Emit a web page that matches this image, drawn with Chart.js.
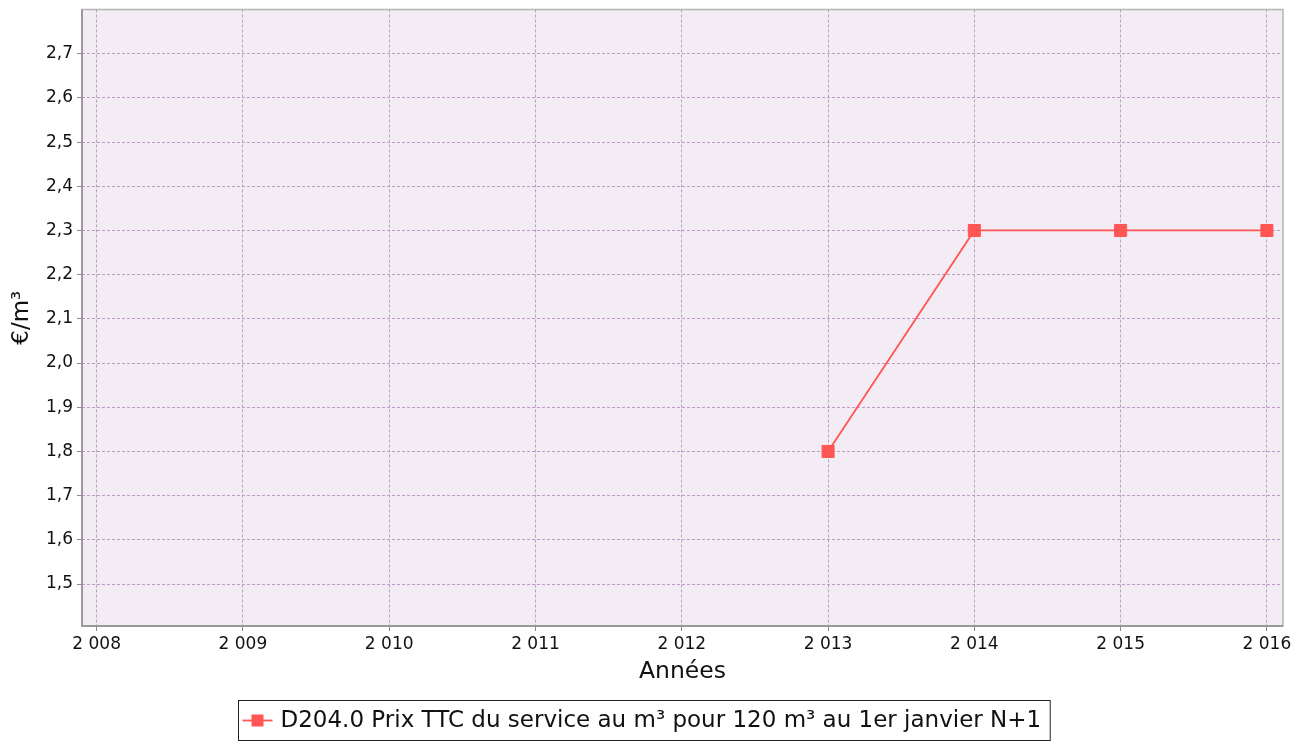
<!DOCTYPE html>
<html>
<head>
<meta charset="utf-8">
<script src="https://cdn.jsdelivr.net/npm/chart.js@4.4.0/dist/chart.umd.min.js"></script>
<style>
  html, body { margin: 0; padding: 0; background: #fff; }
  #wrap { width: 1309px; height: 741px; }
</style>
</head>
<body>
<div id="wrap"><canvas id="chart" width="1309" height="741"></canvas></div>
<script>
const years = [2013, 2014, 2015, 2016];
const prices = [1.8, 2.3, 2.3, 2.3];
const yearTicks = [2008, 2009, 2010, 2011, 2012, 2013, 2014, 2015, 2016];
const priceTicks = [1.5, 1.6, 1.7, 1.8, 1.9, 2.0, 2.1, 2.2, 2.3, 2.4, 2.5, 2.6, 2.7];
const seriesLabel = 'D204.0 Prix TTC du service au m³ pour 120 m³ au 1er janvier N+1';

const FONT = 'DejaVu Sans';
const RED = '#ff5555';
const GRID = '#bf9cc6';
const INK = '#111';

const plotFrame = {
    id: 'plotFrame',
    beforeDraw(chart) {
        const {ctx, chartArea: a} = chart;
        ctx.save();
        ctx.fillStyle = '#f3ecf4';
        ctx.fillRect(a.left, a.top, a.right - a.left, a.bottom - a.top);
        ctx.restore();
    },
    afterDraw(chart) {
        const {ctx, chartArea: a} = chart;
        ctx.save();
        ctx.strokeStyle = '#b4b4b4';
        ctx.lineWidth = 1.5;
        ctx.strokeRect(a.left, a.top, a.right - a.left, a.bottom - a.top);
        ctx.strokeStyle = '#8c8c8c';
        ctx.beginPath();
        ctx.moveTo(a.left, a.top);
        ctx.lineTo(a.left, a.bottom);
        ctx.lineTo(a.right, a.bottom);
        ctx.stroke();

        // legend box
        ctx.font = '23px "' + FONT + '"';
        const tw = ctx.measureText(seriesLabel).width;
        const boxW = tw + 51;
        const x0 = Math.round(chart.width / 2 - boxW / 2 - 11) + 0.5;
        const y0 = 700.5, boxH = 40;
        ctx.fillStyle = '#fff';
        ctx.fillRect(x0, y0, boxW, boxH);
        ctx.strokeStyle = '#222';
        ctx.lineWidth = 1;
        ctx.strokeRect(x0, y0, boxW, boxH);
        const cy = y0 + boxH / 2;
        ctx.strokeStyle = RED;
        ctx.lineWidth = 1.8;
        ctx.beginPath();
        ctx.moveTo(x0 + 4, cy);
        ctx.lineTo(x0 + 34, cy);
        ctx.stroke();
        ctx.fillStyle = RED;
        ctx.fillRect(x0 + 13, cy - 6, 12, 12);
        ctx.fillStyle = INK;
        ctx.textBaseline = 'middle';
        ctx.fillText(seriesLabel, x0 + 42, cy + 1);
        ctx.restore();
    }
};

new Chart(document.getElementById('chart'), {
    type: 'line',
    data: {
        labels: years,
        datasets: [{
            label: seriesLabel,
            data: years.map((y, i) => ({x: y, y: prices[i]})),
            borderColor: RED,
            backgroundColor: RED,
            borderWidth: 1.8,
            pointStyle: 'rect',
            pointRadius: 8.5,
            pointBorderWidth: 1,
            pointBorderColor: RED,
            pointBackgroundColor: RED,
            tension: 0,
            fill: false
        }]
    },
    options: {
        responsive: false,
        animation: false,
        layout: { padding: { top: 8, right: 26, bottom: 52, left: 0 } },
        plugins: {
            legend: { display: false },
            tooltip: { enabled: false }
        },
        scales: {
            x: {
                type: 'linear',
                min: 2007.9,
                max: 2016.11,
                afterBuildTicks: (s) => { s.ticks = yearTicks.map(v => ({value: v})); },
                afterFit: (s) => { s.height = 63; },
                ticks: {
                    font: { family: FONT, size: 17 },
                    color: INK,
                    padding: 3,
                    maxRotation: 0,
                    autoSkip: false,
                    callback: (v) => String(v).replace(/\B(?=(\d{3})+(?!\d))/g, ' ')
                },
                grid: {
                    color: GRID,
                    tickColor: '#8c8c8c',
                    tickLength: 5,
                    tickBorderDash: [],
                    drawOnChartArea: true
                },
                border: { display: false, dash: [3, 2] },
                title: {
                    display: true,
                    text: 'Années',
                    font: { family: FONT, size: 23.5 },
                    color: INK,
                    padding: { top: 0, bottom: 3 }
                }
            },
            y: {
                min: 1.405,
                max: 2.8,
                afterBuildTicks: (s) => { s.ticks = priceTicks.map(v => ({value: v})); },
                afterFit: (s) => {
                    s.width = 82;
                    s.paddingTop = 0;
                    s.paddingBottom = 0;
                },
                ticks: {
                    font: { family: FONT, size: 17 },
                    color: INK,
                    padding: 4,
                    callback: (v) => v.toFixed(1).replace('.', ',')
                },
                grid: {
                    color: GRID,
                    tickColor: '#8c8c8c',
                    tickLength: 5
                },
                border: { display: false, dash: [3, 2] },
                title: {
                    display: true,
                    text: '€/m³',
                    font: { family: FONT, size: 23 },
                    color: INK,
                    padding: { top: 8, bottom: 0 }
                }
            }
        }
    },
    plugins: [plotFrame]
});
</script>
</body>
</html>
